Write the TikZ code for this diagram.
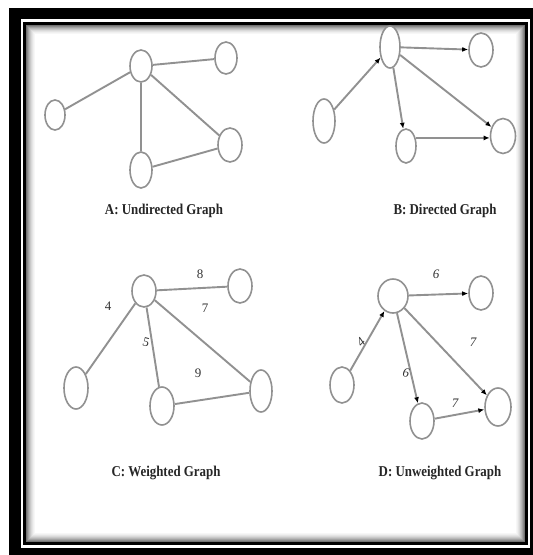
\documentclass[tikz,border=0pt]{standalone}
\usepackage{fontspec}
\setmainfont{Liberation Serif}
\usetikzlibrary{shapes.geometric,arrows.meta}
\definecolor{edgegray}{RGB}{145,145,145}
\definecolor{nodegray}{RGB}{145,145,145}
\tikzset{
  vtx/.style={ellipse, draw=nodegray, line width=1.6pt, fill=white, inner sep=0pt},
  edge/.style={draw=edgegray, line width=1.9pt},
  arr/.style={edge, -{Latex[black,length=6pt,width=5pt]}},
  captext/.style={font=\fontsize{15}{15}\selectfont\bfseries, text=black!85, inner sep=0pt},
  wt/.style={font=\fontsize{13}{13}\selectfont, text=black!80, inner sep=0pt},
}
\newcommand{\vx}[5]{\node[vtx, minimum width=#4pt, minimum height=#5pt] (#1) at (#2,#3) {};}
\begin{document}
\begin{tikzpicture}[x=1pt,y=-1pt]
\useasboundingbox (0,0) rectangle (533,555);
\fill[white] (0,0) rectangle (533,555);
% frame
\fill[black] (9,8) rectangle (533,555);
\fill[white] (20.5,19) rectangle (530,547.5);
\draw[black, line width=3pt] (24.5,23.5) rectangle (526.5,543.5);
\fill[white] (26,25) rectangle (525,542);
\foreach \i/\c in {0/55,1/45,2/36,3/28,4/21,5/15,6/10,7/6,8/3}{
  \draw[black!\c, line width=1pt] (26.5+\i,25.5+\i) rectangle (524.5-\i,541.5-\i);
}
% ---------- A ----------
\vx{a1}{141}{66}{22}{32}
\vx{a2}{226}{58}{22}{32}
\vx{a3}{55}{115}{20}{30}
\vx{a4}{141}{170}{22}{36}
\vx{a5}{230}{145}{24}{34}
\draw[edge] (a1) -- (a2);
\draw[edge] (a1) -- (a3);
\draw[edge] (a1) -- (a4);
\draw[edge] (a1) -- (a5);
\draw[edge] (a4) -- (a5);
\node[captext] (capA) at (164,211) {\scalebox{0.86}[1]{A: Undirected Graph}};
% ---------- B ----------
\vx{b1}{390}{47}{20}{42}
\vx{b2}{481}{50}{24}{34}
\vx{b3}{324}{121}{22}{44}
\vx{b4}{406}{146}{20}{34}
\vx{b5}{503}{136}{25}{35}
\draw[arr] (b3) -- (b1);
\draw[arr] (b1) -- (b2);
\draw[arr] (b1) -- (b4);
\draw[arr] (b1) -- (b5);
\draw[arr] (b4.40) -- (b4.40 -| b5.west);
\node[captext] (capB) at (445,211) {\scalebox{0.86}[1]{B: Directed Graph}};
% ---------- C ----------
\vx{c1}{144}{291}{24}{32}
\vx{c2}{240}{286}{24}{34}
\vx{c3}{76}{388}{24}{42}
\vx{c4}{162}{406}{24}{38}
\vx{c5}{261}{391}{22}{42}
\draw[edge] (c1) -- (c2);
\draw[edge] (c1) -- (c3);
\draw[edge] (c1) -- (c4);
\draw[edge] (c1) -- (c5);
\draw[edge] (c4) -- (c5);
\node[wt] (w8) at (200,274) {8};
\node[wt] (w7) at (205,308) {7};
\node[wt] (w4) at (108,306) {4};
\node[wt, rotate=-15] (w5) at (146,342) {5};
\node[wt] (w9) at (198,373) {9};
\node[captext] (capC) at (166,473) {\scalebox{0.86}[1]{C: Weighted Graph}};
% ---------- D ----------
\vx{d1}{393}{296}{30}{34}
\vx{d2}{481}{293}{24}{34}
\vx{d3}{342}{385}{24}{36}
\vx{d4}{422}{421}{24}{36}
\vx{d5}{498}{407}{26}{38}
\draw[arr] (d3) -- (d1);
\draw[arr] (d1) -- (d2);
\draw[arr] (d1) -- (d4);
\draw[arr] (d1) -- (d5);
\draw[arr] (d4) -- (d5);
\node[wt] (v6a) at (436,274) {\itshape 6};
\node[wt, rotate=45] (v4) at (361,342) {\itshape 4};
\node[wt, rotate=-10] (v6b) at (406,373) {\itshape 6};
\node[wt] (v7a) at (473,342) {\itshape 7};
\node[wt] (v7b) at (455,403) {\itshape 7};
\node[captext] (capD) at (440,473) {\scalebox{0.86}[1]{D: Unweighted Graph}};
\end{tikzpicture}
\end{document}
